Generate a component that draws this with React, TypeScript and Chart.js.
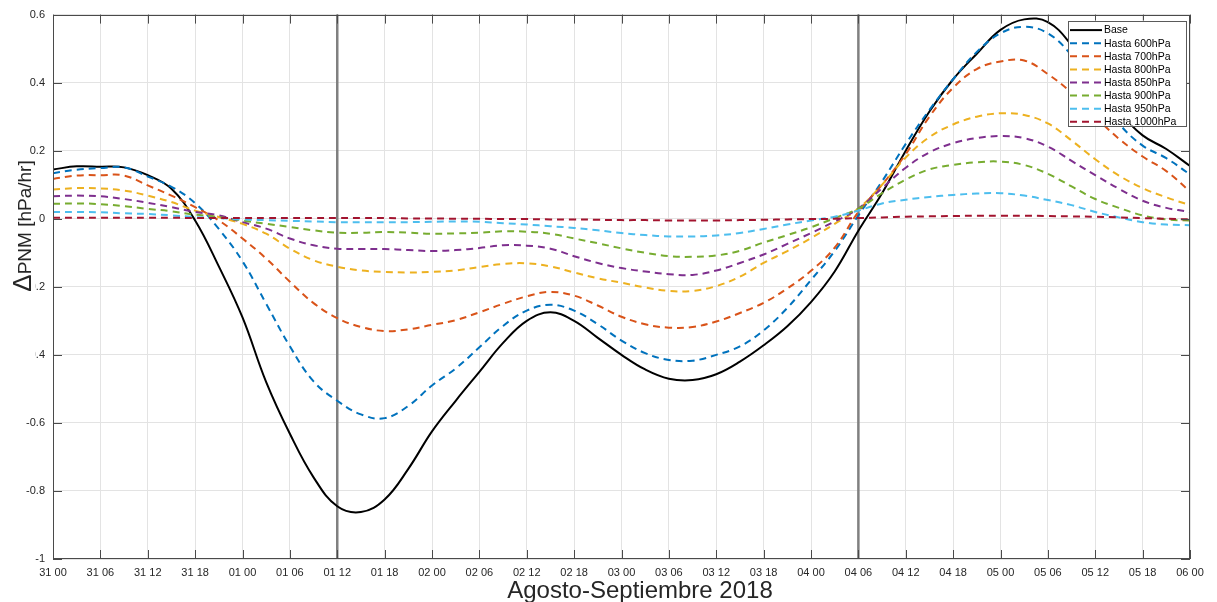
import React, { useEffect, useRef } from "react";
import { Chart, registerables } from "chart.js";

Chart.register(...registerables);

// ---------- data ----------
const hours = [
  0, 3, 6, 9, 12, 15, 18, 21, 24, 27, 30, 33, 36, 39, 42, 45, 48, 51, 54, 57,
  60, 63, 66, 69, 72, 75, 78, 81, 84, 87, 90, 93, 96, 99, 102, 105, 108, 111,
  114, 117, 120, 123, 126, 129, 132, 135, 138, 141, 144,
];

const xTickLabels = [
  "31 00", "31 06", "31 12", "31 18", "01 00", "01 06", "01 12", "01 18",
  "02 00", "02 06", "02 12", "02 18", "03 00", "03 06", "03 12", "03 18",
  "04 00", "04 06", "04 12", "04 18", "05 00", "05 06", "05 12", "05 18",
  "06 00",
];

const seriesLabels = [
  "Base",
  "Hasta 600hPa",
  "Hasta 700hPa",
  "Hasta 800hPa",
  "Hasta 850hPa",
  "Hasta 900hPa",
  "Hasta 950hPa",
  "Hasta 1000hPa",
];

const seriesColors = [
  "#000000",
  "#0072BD",
  "#D95319",
  "#EDB120",
  "#7E2F8E",
  "#77AC30",
  "#4DBEEE",
  "#A2142F",
];

const base = [
  0.145, 0.154, 0.153, 0.151, 0.128, 0.088, -0.005, -0.14, -0.29, -0.48,
  -0.632, -0.76, -0.845, -0.862, -0.825, -0.735, -0.625, -0.535, -0.45, -0.365,
  -0.30, -0.275, -0.30, -0.35, -0.40, -0.443, -0.47, -0.474, -0.457, -0.42,
  -0.372, -0.316, -0.245, -0.155, -0.035, 0.075, 0.20, 0.315, 0.41, 0.485,
  0.555, 0.586, 0.578, 0.51, 0.41, 0.315, 0.245, 0.205, 0.155,
];

const hasta600 = [
  0.134, 0.144, 0.149, 0.151, 0.124, 0.094, 0.046, -0.03, -0.125, -0.25,
  -0.375, -0.478, -0.535, -0.575, -0.586, -0.55, -0.49, -0.44, -0.378, -0.315,
  -0.27, -0.253, -0.27, -0.31, -0.358, -0.395, -0.415, -0.417, -0.40, -0.375,
  -0.328, -0.262, -0.18, -0.095, 0.01, 0.11, 0.22, 0.32, 0.41, 0.49,
  0.545, 0.564, 0.545, 0.48, 0.38, 0.28, 0.215, 0.178, 0.13,
];

const hasta700 = [
  0.117, 0.127, 0.128, 0.127, 0.098, 0.068, 0.034, -0.005, -0.058, -0.117,
  -0.185, -0.248, -0.292, -0.318, -0.33, -0.325, -0.312, -0.298, -0.275, -0.25,
  -0.228, -0.215, -0.226, -0.255, -0.288, -0.31, -0.32, -0.318, -0.302, -0.277,
  -0.247, -0.205, -0.153, -0.085, 0.02, 0.10, 0.19, 0.30, 0.385, 0.44,
  0.462, 0.465, 0.425, 0.37, 0.30, 0.235, 0.183, 0.14, 0.08,
];

const hasta800 = [
  0.086, 0.09, 0.089, 0.083, 0.068, 0.049, 0.024, 0.005, -0.015, -0.044,
  -0.088, -0.122, -0.141, -0.152, -0.156, -0.158, -0.156, -0.152, -0.142, -0.133,
  -0.131, -0.14, -0.158, -0.175, -0.188, -0.202, -0.212, -0.212, -0.198, -0.17,
  -0.13, -0.095, -0.057, -0.015, 0.03, 0.10, 0.18, 0.24, 0.277, 0.30,
  0.31, 0.305, 0.28, 0.23, 0.175, 0.127, 0.09, 0.063, 0.04,
];

const hasta850 = [
  0.066, 0.068, 0.066, 0.058, 0.047, 0.034, 0.02, 0.01, -0.01, -0.029,
  -0.058, -0.078, -0.088, -0.089, -0.089, -0.092, -0.095, -0.092, -0.086, -0.078,
  -0.079, -0.088, -0.11, -0.13, -0.145, -0.155, -0.163, -0.165, -0.152, -0.13,
  -0.105, -0.074, -0.042, -0.008, 0.03, 0.09, 0.15, 0.195, 0.222, 0.237,
  0.243, 0.237, 0.212, 0.17, 0.128, 0.088, 0.053, 0.032, 0.02,
];

const hasta900 = [
  0.044, 0.045, 0.043, 0.037, 0.029, 0.022, 0.012, 0.005, -0.005, -0.015,
  -0.024, -0.034, -0.041, -0.041, -0.039, -0.041, -0.044, -0.043, -0.041, -0.037,
  -0.038, -0.044, -0.058, -0.072, -0.087, -0.1, -0.11, -0.112, -0.108, -0.094,
  -0.07, -0.048, -0.025, 0.002, 0.03, 0.075, 0.115, 0.145, 0.158, 0.166,
  0.168, 0.158, 0.132, 0.095, 0.058, 0.032, 0.01, -0.002, -0.005,
];

const hasta950 = [
  0.02, 0.02, 0.019, 0.016, 0.014, 0.01, 0.005, 0.002, -0.002, -0.004,
  -0.006, -0.008, -0.01, -0.01, -0.01, -0.01, -0.009, -0.008, -0.009, -0.013,
  -0.017, -0.022, -0.027, -0.034, -0.042, -0.048, -0.052, -0.052, -0.049, -0.042,
  -0.03, -0.017, -0.005, 0.006, 0.024, 0.045, 0.056, 0.064, 0.07, 0.074,
  0.075, 0.068, 0.055, 0.04, 0.02, 0.004, -0.01, -0.017, -0.019,
];

const hasta1000 = [
  0.003, 0.003, 0.003, 0.003, 0.003, 0.003, 0.002, 0.002, 0.002, 0.002,
  0.002, 0.002, 0.002, 0.002, 0.002, 0.001, 0.001, 0.0, 0.0, -0.001,
  -0.001, -0.002, -0.002, -0.003, -0.004, -0.004, -0.005, -0.005, -0.005, -0.004,
  -0.003, -0.002, -0.001, 0.0, 0.002, 0.004, 0.006, 0.007, 0.008, 0.009,
  0.009, 0.009, 0.008, 0.007, 0.006, 0.004, 0.002, 0.0, -0.002,
];

const markerHours = [36, 102];

const yAxisTitle = "PNM [hPa/hr]";
const yAxisSymbol = "\u0394";
const xAxisTitle = "Agosto-Septiembre 2018";

// ---------- style ----------
const FONT = '"Liberation Sans", Arial, Helvetica, sans-serif';
const AXIS_COLOR = "#4a4a4a";
const TEXT_COLOR = "#262626";
const GRID_COLOR = "#e3e3e3";
const DASH = [7, 5];

const matlabPlugin = {
  id: "matlabLook",
  beforeDatasetsDraw(chart: any) {
    const { ctx, chartArea: a, scales } = chart;
    const x = scales.x;
    ctx.save();
    ctx.strokeStyle = "#808080";
    ctx.lineWidth = 2.5;
    markerHours.forEach((h) => {
      const px = x.getPixelForValue(h);
      ctx.beginPath();
      ctx.moveTo(px, a.top);
      ctx.lineTo(px, a.bottom);
      ctx.stroke();
    });
    ctx.restore();
  },
  afterDatasetsDraw(chart: any) {
    const { ctx, chartArea: a, scales } = chart;
    const x = scales.x;
    const y = scales.y;
    ctx.save();
    ctx.strokeStyle = AXIS_COLOR;
    ctx.lineWidth = 1;
    ctx.strokeRect(
      Math.round(a.left) + 0.5,
      Math.round(a.top) + 0.5,
      Math.round(a.right - a.left) - 1,
      Math.round(a.bottom - a.top) - 1
    );
    const tl = 9;
    ctx.beginPath();
    x.ticks.forEach((t: any) => {
      const px = Math.round(x.getPixelForValue(t.value)) + 0.5;
      ctx.moveTo(px, a.bottom);
      ctx.lineTo(px, a.bottom - tl);
      ctx.moveTo(px, a.top);
      ctx.lineTo(px, a.top + tl);
    });
    y.ticks.forEach((t: any) => {
      const py = Math.round(y.getPixelForValue(t.value)) + 0.5;
      ctx.moveTo(a.left, py);
      ctx.lineTo(a.left + tl, py);
      ctx.moveTo(a.right, py);
      ctx.lineTo(a.right - tl, py);
    });
    ctx.stroke();
    ctx.restore();
  },
  afterDraw(chart: any) {
    const { ctx, chartArea: a } = chart;
    ctx.save();

    // legend box
    const boxW = 118;
    const boxH = 105;
    const boxL = a.right - 4 - boxW;
    const boxT = a.top + 6;
    ctx.fillStyle = "#ffffff";
    ctx.fillRect(boxL, boxT, boxW, boxH);
    ctx.strokeStyle = "#5a5a5a";
    ctx.lineWidth = 1;
    ctx.strokeRect(Math.round(boxL) + 0.5, Math.round(boxT) + 0.5, boxW, boxH);
    ctx.font = `10.5px ${FONT}`;
    ctx.textBaseline = "middle";
    ctx.textAlign = "left";
    chart.data.datasets.forEach((ds: any, i: number) => {
      const ry = boxT + 9.5 + i * 13.1;
      ctx.strokeStyle = ds.borderColor;
      ctx.lineWidth = 2;
      ctx.setLineDash(ds.borderDash || []);
      ctx.beginPath();
      ctx.moveTo(boxL + 2, ry);
      ctx.lineTo(boxL + 34, ry);
      ctx.stroke();
      ctx.setLineDash([]);
      ctx.fillStyle = "#000000";
      ctx.fillText(ds.label, boxL + 36, ry + 0.5);
    });

    // x axis title
    ctx.fillStyle = TEXT_COLOR;
    ctx.font = `24px ${FONT}`;
    ctx.textAlign = "center";
    ctx.textBaseline = "middle";
    ctx.fillText(xAxisTitle, 640, 591);

    // y axis title (with white backing as in the original figure)
    ctx.fillStyle = "#ffffff";
    ctx.fillRect(0, 158, 35.5, 207);
    ctx.translate(31, 226);
    ctx.rotate(-Math.PI / 2);
    ctx.textBaseline = "alphabetic";
    ctx.textAlign = "left";
    ctx.font = `26px ${FONT}`;
    const wSym = ctx.measureText(yAxisSymbol).width;
    ctx.font = `19px ${FONT}`;
    const wTxt = ctx.measureText(yAxisTitle).width;
    const start = -(wSym + wTxt) / 2;
    ctx.fillStyle = TEXT_COLOR;
    ctx.font = `26px ${FONT}`;
    ctx.fillText(yAxisSymbol, start, 0);
    ctx.font = `19px ${FONT}`;
    ctx.fillText(yAxisTitle, start + wSym, 0);
    ctx.restore();
  },
};

export default function App() {
  const ref = useRef<HTMLCanvasElement>(null);

  useEffect(() => {
    const canvas = ref.current;
    if (!canvas) return;
    const seriesValues = [
      base,
      hasta600,
      hasta700,
      hasta800,
      hasta850,
      hasta900,
      hasta950,
      hasta1000,
    ];
    const datasets = seriesLabels.map((label, i) => ({
      label,
      data: hours.map((h, j) => ({ x: h, y: seriesValues[i][j] })),
      borderColor: seriesColors[i],
      backgroundColor: seriesColors[i],
      borderWidth: 2,
      borderDash: i === 0 ? [] : DASH,
      pointRadius: 0,
      pointHoverRadius: 0,
      tension: 0.4,
      fill: false,
      order: seriesLabels.length - i,
    }));

    const chart = new Chart(canvas, {
      type: "line",
      data: { datasets },
      options: {
        responsive: false,
        animation: false,
        events: [],
        layout: { padding: { left: 0, right: 27, top: 12, bottom: 0 } },
        plugins: {
          legend: { display: false },
          tooltip: { enabled: false },
          title: { display: false },
        },
        scales: {
          x: {
            type: "linear",
            min: 0,
            max: 144,
            offset: false,
            afterFit: (s: any) => {
              s.height = 43;
            },
            grid: { color: GRID_COLOR, drawTicks: false, lineWidth: 1 },
            border: { display: false },
            ticks: {
              stepSize: 6,
              autoSkip: false,
              maxRotation: 0,
              minRotation: 0,
              padding: 7,
              color: TEXT_COLOR,
              font: { family: FONT, size: 11 },
              callback: (v: any) => {
                const idx = Math.round(Number(v) / 6);
                return xTickLabels[idx] ?? "";
              },
            },
          },
          y: {
            type: "linear",
            min: -1,
            max: 0.6,
            afterFit: (s: any) => {
              s.width = 53;
            },
            grid: { color: GRID_COLOR, drawTicks: false, lineWidth: 1 },
            border: { display: false },
            ticks: {
              stepSize: 0.2,
              padding: 8,
              color: TEXT_COLOR,
              font: { family: FONT, size: 11 },
              callback: (v: any) => {
                const r = Math.round(Number(v) * 10) / 10;
                return String(r === 0 ? 0 : r);
              },
            },
          },
        },
      },
      plugins: [matlabPlugin],
    });

    return () => chart.destroy();
  }, []);

  return (
    <canvas
      ref={ref}
      width={1217}
      height={602}
      style={{ position: "fixed", left: 0, top: 0, display: "block", background: "#ffffff" }}
    />
  );
}
